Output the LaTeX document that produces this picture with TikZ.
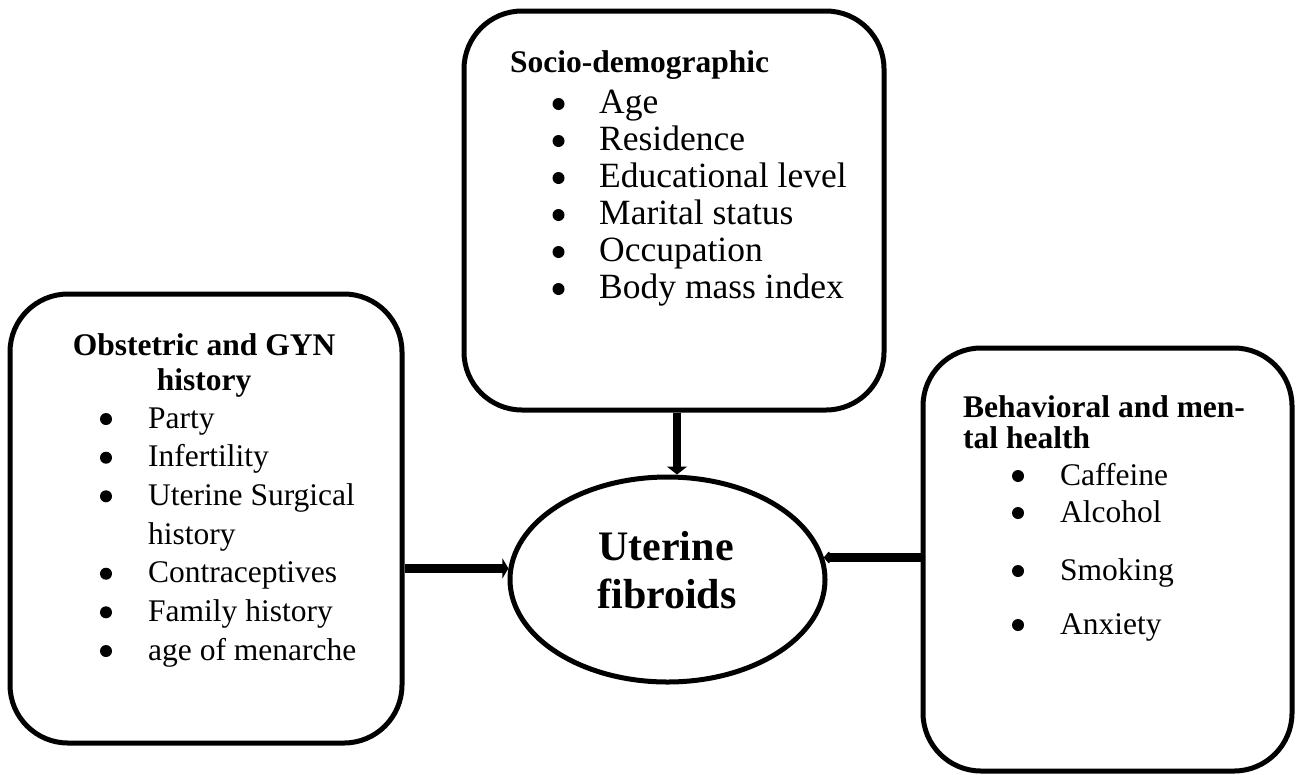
\documentclass[tikz,border=0pt]{standalone}
\usepackage{fontspec}
\setmainfont{Liberation Serif}
\usetikzlibrary{arrows.meta,shapes.geometric}
\newcommand\bodysize{\fontsize{31.5}{37}\selectfont}
\newcommand\topsize{\fontsize{35.5}{37}\selectfont}
\newcommand\bigsize{\fontsize{42}{48}\selectfont}
\begin{document}
\begin{tikzpicture}[x=1pt,y=-1pt,
  frame/.style={draw, line width=5pt, rounded corners=58pt, inner sep=0pt},
  oval/.style={draw, ellipse, line width=5pt, inner sep=0pt},
  txt/.style={anchor=base west, inner sep=0pt, font=\bodysize},
  ttxt/.style={anchor=base west, inner sep=0pt, font=\topsize},
  ttl/.style={anchor=base west, inner sep=0pt, font=\bodysize\bfseries},
  ctl/.style={anchor=base, inner sep=0pt, font=\bodysize\bfseries},
  bul/.style={circle, fill, inner sep=0pt, minimum size=12pt},
  big/.style={anchor=base, inner sep=0pt, font=\bigsize\bfseries},
  link/.style={line width=9pt},
]
\useasboundingbox (0,0) rectangle (1300,774);
\fill[white] (0,0) rectangle (1300,774);

% boxes
\node[frame, minimum width=420pt, minimum height=399pt] (socio) at (674,210.5) {};
\node[frame, minimum width=392pt, minimum height=449pt] (obst) at (206,518.5) {};
\node[frame, minimum width=369pt, minimum height=423pt] (behav) at (1107.5,559.5) {};
\node[oval, minimum width=315pt, minimum height=205pt] (uf) at (667.5,579.5) {};

% ellipse text
\node[big] (uf1) at (666,560) {Uterine};
\node[big] (uf2) at (667,608) {fibroids};

% socio-demographic
\node[ttl] (s0) at (510,72) {Socio-demographic};
\foreach \t [count=\i] in {Age,Residence,Educational level,Marital status,Occupation,Body mass index}{
  \pgfmathsetmacro\yy{113+(\i-1)*37}
  \node[bul] (sb\i) at (558.5,\yy-9) {};
  \node[ttxt] (st\i) at (599,\yy) {\t};
}

% obstetric
\node[ctl] (o0) at (204,355) {Obstetric and GYN};
\node[ctl] (o00) at (204,390) {history};
\node[bul] (ob1) at (106,428-9) {};
\node[txt] (ot1) at (148,428) {Party};
\node[bul] (ob2) at (106,466.7-9) {};
\node[txt] (ot2) at (148,466.7) {Infertility};
\node[bul] (ob3) at (106,505.3-9) {};
\node[txt] (ot3) at (148,505.3) {Uterine Surgical};
\node[txt] (ot3b) at (148,544) {history};
\node[bul] (ob4) at (106,582.7-9) {};
\node[txt] (ot4) at (148,582.7) {Contraceptives};
\node[bul] (ob5) at (106,621.3-9) {};
\node[txt] (ot5) at (148,621.3) {Family history};
\node[bul] (ob6) at (106,660-9) {};
\node[txt] (ot6) at (148,660) {age of menarche};

% behavioral
\node[ttl] (b0) at (963,417) {Behavioral and men-};
\node[ttl] (b00) at (963,448) {tal health};
\node[bul] (bb1) at (1018,485-9) {};
\node[txt] (bt1) at (1060,485) {Caffeine};
\node[bul] (bb2) at (1018,522-9) {};
\node[txt] (bt2) at (1060,522) {Alcohol};
\node[bul] (bb3) at (1018,580-9) {};
\node[txt] (bt3) at (1060,580) {Smoking};
\node[bul] (bb4) at (1018,634-9) {};
\node[txt] (bt4) at (1060,634) {Anxiety};

% connectors
\draw[line width=8pt, -{Triangle[width=20pt,length=8pt]}]
  ([xshift=3pt]socio.south) -- ([xshift=3pt]socio.south |- uf.north);
\draw[link, -{Triangle[width=20pt,length=6pt]}]
  (obst.east |- uf.176) -- (uf.176);
\draw[link, -{Triangle[width=14pt,length=6pt,round]}]
  (behav.west |- uf.8) -- (uf.8);
\end{tikzpicture}
\end{document}
